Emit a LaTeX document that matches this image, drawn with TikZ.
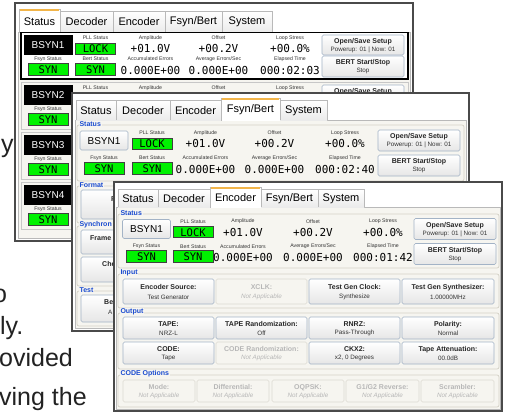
\documentclass[tikz,border=0pt]{standalone}
\usepackage{fontspec}
\setmainfont{Liberation Sans}
\newfontfamily\monof{DejaVu Sans Mono}
\definecolor{winframe}{HTML}{4A4A4A}
\definecolor{panelbg}{HTML}{F6F5F0}
\definecolor{grpline}{HTML}{D4D1C6}
\definecolor{tabbg}{HTML}{EBEBEB}
\definecolor{tabline}{HTML}{B9B9B9}
\definecolor{taborange}{HTML}{F2B54A}
\definecolor{btnline}{HTML}{A3B3C6}
\definecolor{btnbot}{HTML}{E6E6E6}
\definecolor{disline}{HTML}{DCDAD2}
\definecolor{distext}{HTML}{B7B7B7}
\definecolor{grpblue}{HTML}{1A4BD0}
\definecolor{lockgreen}{HTML}{00F200}
\definecolor{lbltext}{HTML}{333333}
\definecolor{bgtext}{HTML}{222222}
\tikzset{
  win/.style={draw=winframe,line width=1.3pt,fill=white},
  panel/.style={draw=tabline,line width=0.5pt,fill=panelbg},
  tabi/.style={draw=tabline,line width=0.5pt,top color=white,bottom color=tabbg},
  taba/.style={draw=tabline,line width=0.5pt,fill=white},
  tabtext/.style={font=\fontsize{11}{12}\selectfont,inner sep=0pt,text=black},
  grp/.style={draw=grpline,line width=0.7pt,rounded corners=2pt},
  grplabel/.style={font=\bfseries\fontsize{7}{8}\selectfont,text=grpblue,fill=panelbg,inner sep=0.8pt,anchor=west},
  lab/.style={font=\fontsize{5.2}{6}\selectfont,text=lbltext,inner sep=0pt},
  valt/.style={font=\monof\fontsize{11}{12}\selectfont,inner sep=0pt,text=black},
  gbox/.style={draw=black!75,line width=0.6pt,fill=lockgreen},
  gtext/.style={font=\monof\fontsize{10.5}{11}\selectfont,inner sep=0pt,text=black},
  blk/.style={fill=black,draw=black},
  blktext/.style={font=\fontsize{10}{11}\selectfont,text=white,inner sep=0pt},
  btn/.style={draw=btnline,line width=0.6pt,rounded corners=1.5pt,top color=white,bottom color=btnbot},
  btntitle/.style={font=\bfseries\fontsize{7}{8}\selectfont,text=black!85,inner sep=0pt},
  btnsub/.style={font=\fontsize{6.3}{7}\selectfont,text=black!80,inner sep=0pt},
  dis/.style={draw=disline,line width=0.6pt,rounded corners=1.5pt,fill=panelbg},
  distitle/.style={font=\bfseries\fontsize{7}{8}\selectfont,text=distext,inner sep=0pt},
  dissub/.style={font=\itshape\fontsize{6.3}{7}\selectfont,text=distext,inner sep=0pt},
  bigtext/.style={font=\fontsize{25}{30}\selectfont,text=bgtext,inner sep=0pt,anchor=base west},
  rowsel/.style={draw=black,line width=1.2pt,fill=white},
  rowfr/.style={draw=black!22,line width=0.8pt,fill=panelbg},
}
% tab: x1 y1 x2 y2 text
\newcommand\TabI[5]{%
  \path[tabi] (#1,#4) -- (#1,#2) -- (#3,#2) -- (#3,#4);
  \node[tabtext] at ({((#1)+(#3))/2},{((#2)+(#4))/2+0.5}) {#5};}
\newcommand\TabA[5]{%
  \path[taba] (#1,#4+0.6) -- (#1,#2) -- (#3,#2) -- (#3,#4+0.6);
  \draw[taborange,line width=1.6pt] (#1+0.6,#2+0.8) -- (#3-0.6,#2+0.8);
  \node[tabtext] at ({((#1)+(#3))/2},{((#2)+(#4))/2+1}) {#5};}
% green box: x1 y1 x2 y2 text
\newcommand\GB[5]{%
  \draw[gbox] (#1,#2) rectangle (#3,#4);
  \node[gtext] at ({((#1)+(#3))/2},{((#2)+(#4))/2+0.5}) {#5};}
% button: style x1 y1 x2 y2 title sub
\newcommand\Btn[7]{%
  \draw[#1] (#2,#3) rectangle (#4,#5);
  \node[#1title] at ({((#2)+(#4))/2},{(#3)+((#5)-(#3))*0.33}) {#6};
  \node[#1sub] at ({((#2)+(#4))/2},{(#3)+((#5)-(#3))*0.72}) {#7};}
% group frame: x1 y1 x2 y2 label
\newcommand\Grp[5]{%
  \draw[grp] (#1,#2) rectangle (#3,#4);
  \node[grplabel] at (#1+1.5,#2-1) {#5};}
% full status row: y0, kind (0 black label / 1 button), name, elapsed
\newcommand\StatusRow[4]{%
  \ifnum#2=0
    \draw[blk] (\cB-24,#1+3) rectangle (\cB+24,#1+22);
    \node[blktext] at (\cB,#1+12.8) {#3};
  \else
    \draw[btn] (\cB-24,#1+4) rectangle (\cB+24,#1+23);
    \node[blktext,text=black] at (\cB,#1+13.8) {#3};
  \fi
  \node[lab] at (\cP,#1+6) {PLL Status};
  \GB{\cP-20}{#1+11}{\cP+20}{#1+22}{LOCK}
  \node[lab] at (\cA,#1+6) {Amplitude};
  \node[valt] at (\cA,#1+16.5) {+01.0V};
  \node[lab] at (\cO,#1+6) {Offset};
  \node[valt] at (\cO,#1+16.5) {+00.2V};
  \node[lab] at (\cL,#1+6) {Loop Stress};
  \node[valt] at (\cL,#1+16.5) {+00.0\%};
  \node[lab] at (\cB,#1+27+\dR) {Fsyn Status};
  \GB{\cB-20}{#1+31+\dR}{\cB+20}{#1+43+\dR}{SYN}
  \node[lab] at (\cP,#1+27+\dR) {Bert Status};
  \GB{\cP-20}{#1+31+\dR}{\cP+20}{#1+43+\dR}{SYN}
  \node[lab] at (\cA,#1+27+\dR) {Accumulated Errors};
  \node[valt] at (\cA,#1+38+\dR) {0.000E+00};
  \node[lab] at (\cO,#1+27+\dR) {Average Errors/Sec};
  \node[valt] at (\cO,#1+38+\dR) {0.000E+00};
  \node[lab] at (\cL,#1+27+\dR) {Elapsed Time};
  \node[valt] at (\cL,#1+38+\dR) {#4};
  \Btn{btn}{\bL}{#1+3}{\bR}{#1+23+\dR/4}{Open/Save Setup}{Powerup: 01 | Now: 01}
  \Btn{btn}{\bL}{#1+24+\dR}{\bR}{#1+45+\dR}{BERT Start/Stop}{Stop}
}
% partly hidden row of window 1: y0, name
\newcommand\PartRow[2]{%
  \draw[rowfr] (21,#1) rectangle (408,#1+47);
  \draw[blk] (\cB-24,#1+3) rectangle (\cB+24,#1+22);
  \node[blktext] at (\cB,#1+12.8) {#2};
  \node[lab] at (\cB,#1+27) {Fsyn Status};
  \GB{\cB-20}{#1+31}{\cB+20}{#1+43}{SYN}
}
\begin{document}
\begin{tikzpicture}[x=1pt,y=-1pt]
\useasboundingbox[fill=white] (0,0) rectangle (506,413);
% ---------- background page text ----------
\node[bigtext] (t1) at (1,152) {y};
\node[bigtext] (t2) at (-7,302) {o};
\node[bigtext] (t3) at (0,334) {ly.};
\node[bigtext] (t4) at (-1,366) {ovided};
\node[bigtext] (t5) at (-1,405) {ving the};
% ---------- window 1 (Status) ----------
\draw[win] (15,3) rectangle (413,241);
\draw[panel] (18,32) rectangle (410,238);
\TabA{19}{9}{60}{32}{Status}
\TabI{60}{11}{113}{32}{Decoder}
\TabI{113}{11}{165}{32}{Encoder}
\TabI{165}{11}{222}{32}{Fsyn/Bert}
\TabI{222}{11}{272}{32}{System}
\def\cB{48}\def\cP{95.5}\def\cA{150.5}\def\cO{218.5}\def\cL{290}\def\bL{322}\def\bR{404}\def\dR{0}
\draw[rowsel] (21,32.5) rectangle (408,79);
\StatusRow{32}{0}{BSYN1}{000:02:03}
\PartRow{82}{BSYN2}
\node[lab] (r2a) at (\cP,88) {PLL Status};
\node[lab] (r2b) at (\cA,88) {Amplitude};
\node[lab] (r2c) at (\cO,88) {Offset};
\node[lab] (r2d) at (\cL,88) {Loop Stress};
\draw[btn] (\bL,85) rectangle (\bR,105);
\node[btntitle] (r2e) at ({(\bL+\bR)/2},92) {Open/Save Setup};
\PartRow{132}{BSYN3}
\PartRow{182}{BSYN4}
% ---------- window 2 (Fsyn/Bert) ----------
\draw[win] (72,93) rectangle (469,331);
\draw[panel] (75,120) rectangle (466,328);
\TabI{76}{100}{116}{120}{Status}
\TabI{116}{100}{170}{120}{Decoder}
\TabI{170}{100}{221}{120}{Encoder}
\TabA{221}{98}{280}{120}{Fsyn/Bert}
\TabI{280}{100}{327}{120}{System}
\Grp{77}{125}{464}{181}{Status}
\def\cB{104}\def\cP{152}\def\cA{205.5}\def\cO{274.5}\def\cL{345}\def\bL{378}\def\bR{460}\def\dR{4}
\StatusRow{127}{1}{BSYN1}{000:02:40}
\Grp{77}{186}{464}{223}{Format}
\draw[btn] (81,190) rectangle (220,219);
\node[btntitle,anchor=west] (f1) at (111,199.5) {F};
\Grp{77}{226}{464}{286}{Synchron}
\draw[btn] (81,230) rectangle (220,254);
\node[btntitle,anchor=west] (f2) at (90,238) {Frame};
\draw[btn] (81,257) rectangle (220,282);
\node[btntitle,anchor=west] (f3) at (102,264) {Che};
\Grp{77}{291}{464}{326}{Test}
\draw[btn] (81,295) rectangle (220,322);
\node[btntitle,anchor=west] (f4) at (104,302.5) {Be};
\node[btnsub,anchor=west] (f5) at (108,312) {A};
% ---------- window 3 (Encoder) ----------
\draw[win] (114,182) rectangle (502,411);
\draw[panel] (116,207) rectangle (500,409);
\TabI{118}{189}{158}{207}{Status}
\TabI{158}{189}{210}{207}{Decoder}
\TabA{210}{187}{261}{207}{Encoder}
\TabI{261}{189}{318}{207}{Fsyn/Bert}
\TabI{318}{189}{364}{207}{System}
\Grp{118}{214}{499}{268}{Status}
\def\cB{146.5}\def\cP{193}\def\cA{243}\def\cO{313}\def\cL{383}\def\bL{414}\def\bR{496}\def\dR{4}
\StatusRow{215.5}{1}{BSYN1}{000:01:42}
\Grp{118}{274}{499}{308}{Input}
\Btn{btn}{123}{279}{214}{304}{Encoder Source:}{Test Generator}
\Btn{dis}{216}{279}{307}{304}{XCLK:}{Not Applicable}
\Btn{btn}{309}{279}{400}{304}{Test Gen Clock:}{Synthesize}
\Btn{btn}{402}{279}{494}{304}{Test Gen Synthesizer:}{1.00000MHz}
\Grp{118}{313}{499}{369}{Output}
\Btn{btn}{123}{317}{214}{339}{TAPE:}{NRZ-L}
\Btn{btn}{216}{317}{307}{339}{TAPE Randomization:}{Off}
\Btn{btn}{309}{317}{400}{339}{RNRZ:}{Pass-Through}
\Btn{btn}{402}{317}{494}{339}{Polarity:}{Normal}
\Btn{btn}{123}{342}{214}{364}{CODE:}{Tape}
\Btn{dis}{216}{342}{307}{364}{CODE Randomization:}{Not Applicable}
\Btn{btn}{309}{342}{400}{364}{CKX2:}{x2, 0 Degrees}
\Btn{btn}{402}{342}{494}{364}{Tape Attenuation:}{00.0dB}
\Grp{118}{375}{499}{407}{CODE Options}
\Btn{dis}{123}{380}{195}{402}{Mode:}{Not Applicable}
\Btn{dis}{197}{380}{269}{402}{Differential:}{Not Applicable}
\Btn{dis}{272}{380}{344}{402}{OQPSK:}{Not Applicable}
\Btn{dis}{346}{380}{419}{402}{G1/G2 Reverse:}{Not Applicable}
\Btn{dis}{421}{380}{494}{402}{Scrambler:}{Not Applicable}
\end{tikzpicture}
\end{document}
